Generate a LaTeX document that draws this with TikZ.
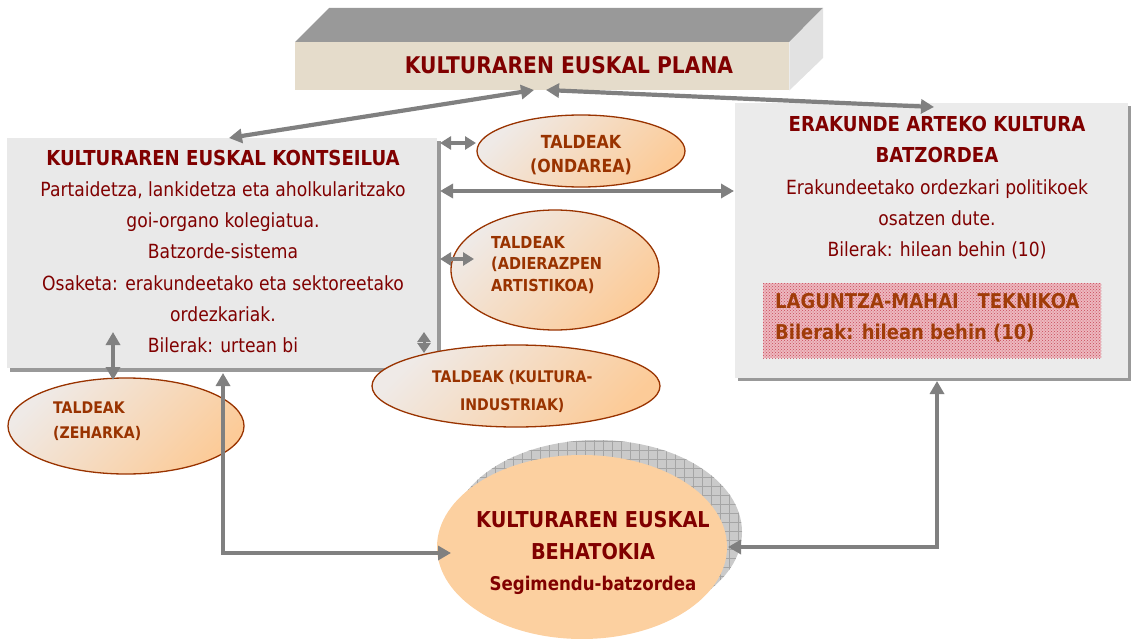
\documentclass[tikz,border=0pt]{standalone}
\usepackage{fontspec}
\setmainfont{DejaVu Sans}[FakeStretch=0.88]
\usetikzlibrary{shapes.geometric,arrows.meta,patterns,calc}
\definecolor{kred}{HTML}{800000}
\definecolor{ebrown}{HTML}{993300}
\definecolor{lbrown}{HTML}{A03C08}
\definecolor{arrgray}{HTML}{808080}
\definecolor{boxfill}{HTML}{E9E9E9}
\definecolor{boxshadow}{HTML}{999999}
\definecolor{beige}{HTML}{E5DCCB}
\definecolor{topgray}{HTML}{999999}
\definecolor{sidegray}{HTML}{E2E2E2}
\definecolor{elight}{HTML}{EFEAE7}
\definecolor{edark}{HTML}{FCCB98}
\definecolor{behfill}{HTML}{FCD0A0}
\definecolor{pinkfill}{HTML}{EDB8BF}
\definecolor{pinkdot}{HTML}{C84858}
\definecolor{shgray}{HTML}{CACACA}
\definecolor{shgrid}{HTML}{A5A5A5}
\pgfdeclarepatternformonly{shadowgrid}{\pgfqpoint{-1pt}{-1pt}}{\pgfqpoint{10pt}{10pt}}{\pgfqpoint{9pt}{9pt}}{%
  \pgfsetlinewidth{0.7pt}%
  \pgfpathmoveto{\pgfqpoint{0pt}{0pt}}\pgfpathlineto{\pgfqpoint{9.1pt}{0pt}}%
  \pgfpathmoveto{\pgfqpoint{0pt}{0pt}}\pgfpathlineto{\pgfqpoint{0pt}{9.1pt}}%
  \pgfusepath{stroke}}
\begin{document}
\begin{tikzpicture}[x=1pt,y=-1pt,
  conn/.style={draw=arrgray, line width=4.2pt,
     {Triangle[length=13pt,width=14pt]}-{Triangle[length=13pt,width=14pt]}},
  smallconn/.style={draw=arrgray, line width=4.2pt,
     {Triangle[length=11pt,width=13pt]}-{Triangle[length=11pt,width=13pt]}},
  tinyconn/.style={draw=arrgray, line width=3pt,
     {Triangle[length=10pt,width=13pt]}-{Triangle[length=10pt,width=13pt]}},
  graybox/.style={rectangle, fill=boxfill, inner sep=0pt, anchor=north west},
  tline/.style={anchor=base, inner sep=0pt, text=kred, font=\fontsize{20.6}{25}\selectfont\bfseries},
  bline/.style={anchor=base, inner sep=0pt, text=kred, font=\fontsize{19.5}{23}\selectfont},
  group/.style={ellipse, draw=ebrown, line width=1.3pt, inner sep=0pt,
     top color=elight, bottom color=edark, shading angle=45},
  gtext/.style={inner sep=0pt, text=ebrown, font=\fontsize{16.5}{20}\selectfont\bfseries},
  ltext/.style={anchor=base west, inner sep=0pt, text=lbrown, font=\fontsize{20.4}{24}\selectfont\bfseries},
  btext/.style={anchor=base, inner sep=0pt, text=kred, font=\fontsize{21.9}{26}\selectfont\bfseries}]
\useasboundingbox (0,0) rectangle (1131,639);

% ---- Kulturaren Euskal Plana (3D block)
\node[rectangle, fill=beige, inner sep=0pt, minimum width=494pt, minimum height=48pt, anchor=north west] (plana) at (295,42) {};
\fill[topgray] (plana.north west) -- (329,8) -- (823,8) -- (plana.north east) -- cycle;
\fill[sidegray] (plana.north east) -- (823,8) -- (823,58) -- (plana.south east) -- cycle;
\node[anchor=base, inner sep=0pt, text=kred, font=\fontsize{23}{27}\selectfont\bfseries] (planatxt) at (569,74) {KULTURAREN EUSKAL PLANA};

% ---- Kontseilua box
\fill[boxshadow] (10,141) rectangle (441,372);
\node[graybox, minimum width=430pt, minimum height=230pt] (kontseilua) at (7,138) {};
\node[tline] (k1) at (223,165) {KULTURAREN EUSKAL KONTSEILUA};
\node[bline] (k2) at (223,196) {Partaidetza, lankidetza eta aholkularitzako};
\node[bline] (k3) at (223,227) {goi-organo kolegiatua.};
\node[bline] (k4) at (223,258) {Batzorde-sistema};
\node[bline] (k5) at (223,290) {Osaketa: erakundeetako eta sektoreetako};
\node[bline] (k6) at (223,321) {ordezkariak.};
\node[bline] (k7) at (223,352) {Bilerak: urtean bi};

% ---- Batzordea box
\fill[boxshadow] (738,106) rectangle (1131,381);
\node[graybox, fill=boxfill!90!white, minimum width=393pt, minimum height=275pt] (batzordea) at (735,103) {};
\node[tline] (b1) at (937,132) {ERAKUNDE ARTEKO KULTURA};
\node[tline] (b2) at (937,163) {BATZORDEA};
\node[bline] (b3) at (937,194) {Erakundeetako ordezkari politikoek};
\node[bline] (b4) at (937,225) {osatzen dute.};
\node[bline] (b5) at (937,256) {Bilerak: hilean behin (10)};
\node[rectangle, fill=pinkfill, inner sep=0pt, minimum width=338pt, minimum height=75pt, anchor=north west] (laguntza) at (763,283) {};
\fill[pattern=crosshatch dots, pattern color=pinkdot] (laguntza.north west) rectangle (laguntza.south east);
\node[ltext] (l1) at (775,308) {LAGUNTZA-MAHAI\ \ \ TEKNIKOA};
\node[ltext] (l2) at (775,339) {Bilerak: hilean behin (10)};

% ---- Taldeak ellipses
\node[group, minimum width=208pt, minimum height=72pt] (ondarea) at (581,151) {};
\node[gtext, anchor=base, font=\fontsize{18}{22}\selectfont\bfseries] (o1) at (581,149) {TALDEAK};
\node[gtext, anchor=base, font=\fontsize{18}{22}\selectfont\bfseries] (o2) at (581,172) {(ONDAREA)};

\node[group, minimum width=208pt, minimum height=120pt] (adierazpen) at (555,270) {};
\node[gtext, anchor=base west] (a1) at (491,248) {TALDEAK};
\node[gtext, anchor=base west] (a2) at (491,269) {(ADIERAZPEN};
\node[gtext, anchor=base west] (a3) at (491,291) {ARTISTIKOA)};

\node[group, minimum width=288pt, minimum height=82pt] (kultura) at (516,386) {};
\node[gtext, anchor=base west, font=\fontsize{16}{20}\selectfont\bfseries] (ku1) at (432,382) {TALDEAK (KULTURA-};
\node[gtext, anchor=base west, font=\fontsize{16}{20}\selectfont\bfseries] (ku2) at (460,410) {INDUSTRIAK)};

\node[group, minimum width=236pt, minimum height=96pt] (zeharka) at (126,426) {};
\node[gtext, anchor=base west, font=\fontsize{16}{20}\selectfont\bfseries] (z1) at (53,413) {TALDEAK};
\node[gtext, anchor=base west, font=\fontsize{16}{20}\selectfont\bfseries] (z2) at (53,438) {(ZEHARKA)};

% ---- Behatokia
\node[ellipse, fill=shgray, inner sep=0pt, minimum width=290pt, minimum height=184pt] (behshadow) at (597,532) {};
\fill[pattern=shadowgrid, pattern color=shgrid] (behshadow.center) ellipse [x radius=145pt, y radius=92pt];
\node[ellipse, fill=behfill, inner sep=0pt, minimum width=290pt, minimum height=184pt] (behatokia) at (582,547) {};
\node[btext] (h1) at (593,527) {KULTURAREN EUSKAL};
\node[btext] (h2) at (593,559) {BEHATOKIA};
\node[btext, font=\fontsize{18.9}{23}\selectfont\bfseries] (h3) at (593,590) {Segimendu-batzordea};

% ---- connector end points
\coordinate (pl1) at (534,90);
\coordinate (pl2) at (546,90);
\coordinate (ktop) at (229,138);
\coordinate (btop) at (934,107);
\coordinate (kr1) at (440,143);
\coordinate (kr2) at (440,191);
\coordinate (kr3) at (440,259);
\coordinate (ond) at (476,143);
\coordinate (bleft) at (734,191);
\coordinate (adi) at (474,259);
\coordinate (st1) at (424,332);
\coordinate (st2) at (424,353);
\coordinate (kb1) at (113,332);
\coordinate (zt) at (113,380);
\coordinate (kb2) at (223,373);
\coordinate (hl) at (451,553);
\coordinate (bb) at (937,381);
\coordinate (hr) at (728,547);

% ---- connectors
\draw[conn] (ktop) -- (pl1);
\draw[conn] (pl2) -- (btop);
\draw[smallconn] (kr1) -- (ond);
\draw[conn] (kr2) -- (bleft);
\draw[smallconn] (kr3) -- (adi);
\draw[tinyconn] (st1) -- (st2);
\draw[conn] (kb1) -- (zt);
\draw[conn] (kb2) |- (hl);
\draw[conn] (bb) |- (hr);
\end{tikzpicture}
\end{document}
